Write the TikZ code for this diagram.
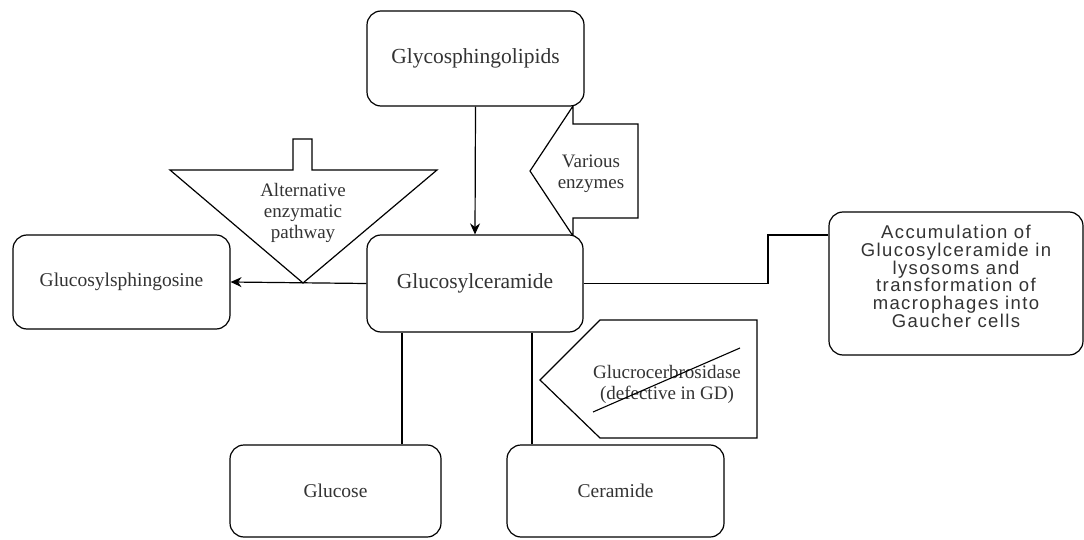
\documentclass[tikz,border=0pt]{standalone}
\usepackage{fontspec}
\setmainfont{Liberation Serif}
\newfontfamily\accumfont[LetterSpace=7.5]{Liberation Sans}
\usetikzlibrary{arrows.meta,calc,positioning}
\tikzset{
    mybox/.style={draw=black,line width=1.2pt,rounded corners=14pt,fill=white,align=center,inner sep=0pt,text=black!80,font=\fontsize{19.5}{21}\selectfont},
    mybigbox/.style={mybox,font=\fontsize{21.5}{23}\selectfont},
    myedge/.style={line width=1.2pt,draw=black},
    myarrow/.style={myedge,-{Stealth[length=11pt,width=10pt]}},
    myblock/.style={draw=black,line width=1.2pt,fill=white,line join=miter},
    mylabel/.style={align=center,inner sep=0pt,text=black!80,font=\fontsize{19}{21}\selectfont}
}

\begin{document}
\begin{tikzpicture}[x=1pt,y=-1pt]
  \useasboundingbox (0,0) rectangle (1084,540);

  \coordinate (G1) at (475.5,58.5);
  \coordinate (G2) at (475,283.5);
  \coordinate (S) at (121.5,282);
  \coordinate (A) at (956,283.5);
  \coordinate (GL) at (335.5,491);
  \coordinate (CE) at (615.5,491);
  \coordinate (bend) at (768,235);

  % block arrows
  \draw[myblock]
    (170,170)--(293,170)--(293,139)--(312,139)--(312,170)--(437,170)--(303,283)--cycle;
  \node[mylabel] (altlbl) at (303,213) {Alternative\\enzymatic\\pathway};

  \draw[myblock]
    (530,171)--(573,106)--(573,124)--(638,124)--(638,218)--(573,218)--(573,236)--cycle;
  \node[mylabel] (varlbl) at (591,174) {Various\\enzymes};

  \draw[myblock]
    (540,380)--(600,320)--(757,320)--(757,438)--(600,438)--cycle;
  \node[mylabel] (gbalbl) at (667,384) {Glucrocerbrosidase\\(defective in GD)};
  \draw[myedge,line width=1.1pt] (593,412)--(740,348);

  % boxes
  \node[mybigbox,minimum width=217pt,minimum height=95pt] (glyco) at (G1) {Glycosphingolipids};

  \node[mybigbox,minimum width=216pt,minimum height=97pt] (glucer) at (G2) {Glucosylceramide};

  \node[mybox,minimum width=217pt,minimum height=94pt] (sphing) at (S) {Glucosylsphingosine};

  \node[mybox,minimum width=254pt,minimum height=143pt] (accum) at (A) {};
  \node[mylabel,font=\accumfont\fontsize{18.5}{17.7}\selectfont] (accumtxt)
    at ([yshift=7pt]accum.center)
    {Accumulation of\\Glucosylceramide in\\lysosoms and\\transformation of\\macrophages into\\Gaucher cells};

  \node[mybox,minimum width=211pt,minimum height=92pt] (glucose) at (GL) {Glucose};

  \node[mybox,minimum width=217pt,minimum height=92pt] (ceramide) at (CE) {Ceramide};

  % connectors
  \draw[myarrow] (glyco.south) -- (glucer.north);
  \draw[myarrow] (glucer.west) -- (sphing.east);
  \draw[myedge] (glucer.east) -| (bend) -- (bend -| accum.west);
  \draw[myedge] ([xshift=-73pt]glucer.south) -- ([xshift=-73pt]glucer.south |- glucose.north);
  \draw[myedge] ([xshift=57pt]glucer.south) -- ([xshift=57pt]glucer.south |- ceramide.north);
\end{tikzpicture}
\end{document}
